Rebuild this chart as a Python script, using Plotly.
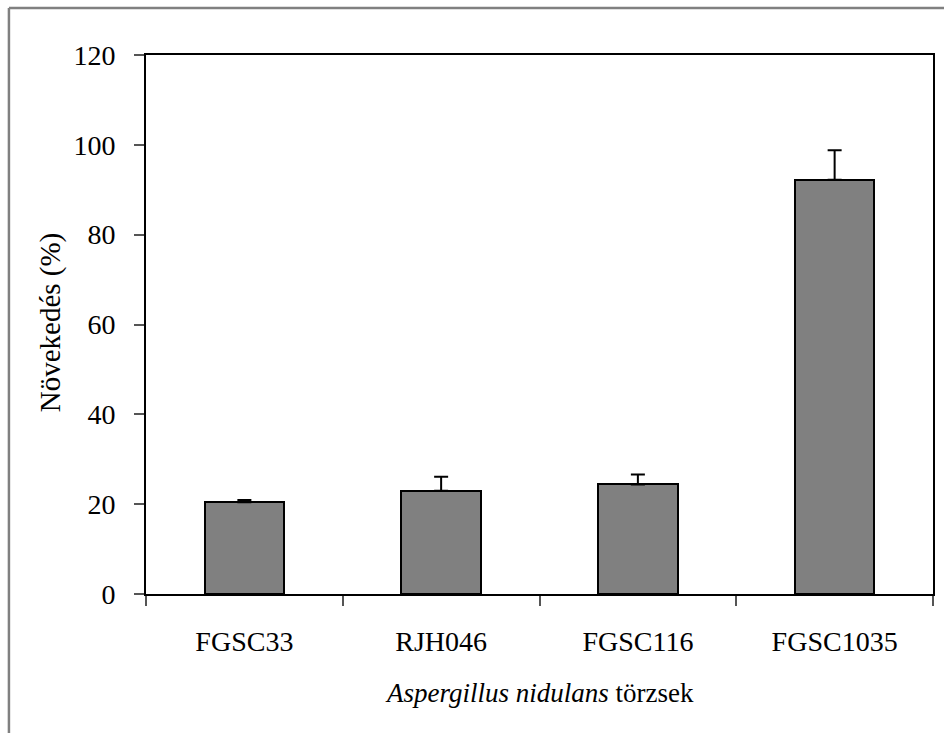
import plotly.graph_objects as go

categories = ["FGSC33", "RJH046", "FGSC116", "FGSC1035"]
values = [20.4, 23.0, 24.4, 92.2]
errors = [0.5, 3.1, 2.2, 6.6]
y_ticks = [0, 20, 40, 60, 80, 100, 120]

W, H = 944, 733
L, R, T, B = 145.5, 935, 55, 594
pw, ph = R - L, B - T

def px(x):
    return (x - L) / pw

def py(y):
    return (B - y) / ph

fig = go.Figure()
fig.add_trace(go.Bar(
    x=categories, y=values, width=0.405,
    marker=dict(color="#808080", line=dict(color="black", width=2)),
    error_y=dict(type="data", array=errors, arrayminus=[0] * len(errors),
                 symmetric=False, color="black", thickness=2, width=7),
))

font = "'Times New Roman', 'Liberation Serif', 'DejaVu Serif', serif"
fig.update_layout(
    width=W, height=H,
    margin=dict(l=L, r=W - R, t=T, b=H - B, pad=0),
    plot_bgcolor="white", paper_bgcolor="white",
    showlegend=False,
    font=dict(family=font, color="black", size=24),
    bargap=0,
)
fig.update_xaxes(
    type="category", tickson="boundaries", ticks="outside", ticklen=10,
    tickcolor="#555", tickwidth=1.5,
    showline=True, linecolor="black", linewidth=2, mirror=True,
    showgrid=False, tickfont=dict(size=28, family=font),
    ticklabelstandoff=21,
)
fig.update_yaxes(
    range=[0, 120], tickvals=y_ticks, ticks="outside", ticklen=10,
    tickcolor="#555", tickwidth=1.5,
    showline=True, linecolor="black", linewidth=2, mirror=True,
    showgrid=False, zeroline=False, tickfont=dict(size=28, family=font),
    ticklabelstandoff=13,
)

fig.add_annotation(text="Növekedés (%)", xref="paper", yref="paper",
                   x=px(50), y=py(322.5), textangle=-90, showarrow=False,
                   font=dict(size=29, family=font), xanchor="center", yanchor="middle")
fig.add_annotation(text="<i>Aspergillus nidulans</i> törzsek", xref="paper", yref="paper",
                   x=px(540.5), y=py(693), showarrow=False,
                   font=dict(size=27, family=font), xanchor="center", yanchor="middle")

# outer chart frame
fig.add_shape(type="line", xref="paper", yref="paper",
              x0=px(8), y0=py(8), x1=px(950), y1=py(8),
              line=dict(color="#808080", width=2.5))
fig.add_shape(type="line", xref="paper", yref="paper",
              x0=px(8), y0=py(8), x1=px(8), y1=py(740),
              line=dict(color="#808080", width=2.5))

fig.write_html("out.html")
